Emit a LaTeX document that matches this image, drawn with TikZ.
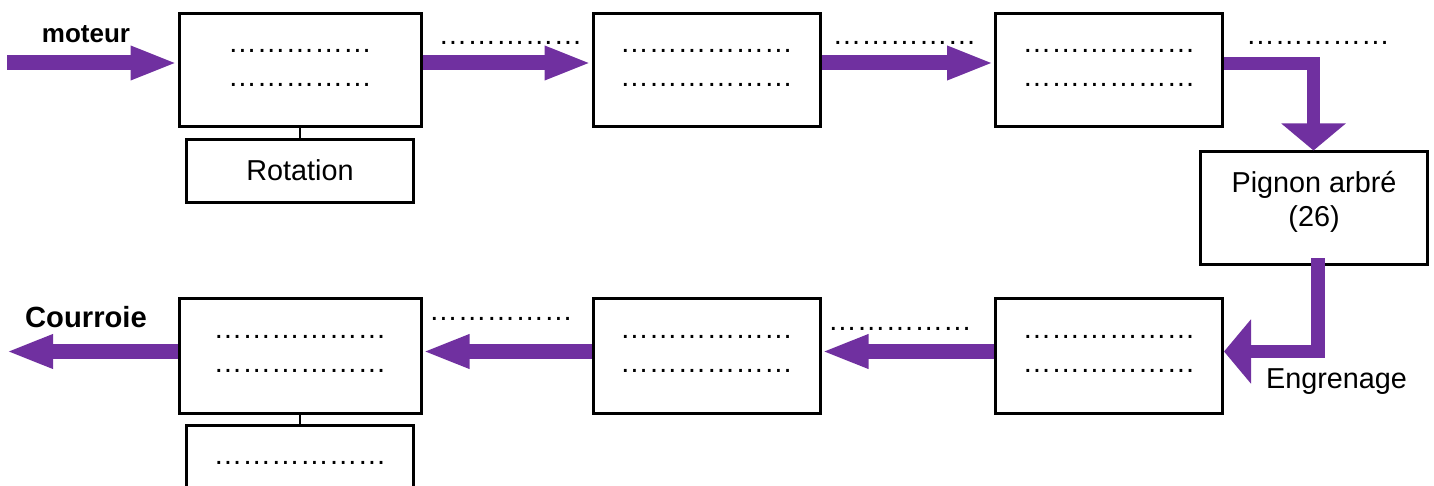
\documentclass[tikz,border=0pt]{standalone}
\usepackage{fontspec}
\setmainfont{Liberation Sans}
\usetikzlibrary{arrows.meta}
\definecolor{arrpurple}{RGB}{112,48,160}
\tikzset{
  box/.style={draw=black, line width=1.5pt, fill=white, minimum width=113.5pt, minimum height=56.5pt, inner sep=0pt},
  widebox/.style={box, minimum width=121pt},
  smallbox/.style={box, minimum height=31.5pt},
  txt/.style={font=\fontsize{14.4}{17}\selectfont, inner sep=0pt},
  dotstxt/.style={txt, anchor=base},
  boldtxt/.style={font=\bfseries, inner sep=0pt, anchor=base},
  arr/.style={draw=arrpurple, line width=7.5pt, line cap=butt, -{Triangle[length=23.5pt,width=15.5pt]}},
  barr/.style={draw=arrpurple, line width=6.75pt, line cap=butt, line join=miter, -{Triangle[length=13.5pt,width=31.5pt]}},
  link/.style={draw=black, line width=1pt}
}
\begin{document}
\begin{tikzpicture}[x=0.5pt, y=-0.5pt]
\useasboundingbox (0,0) rectangle (1434,486);
% top row
\node[widebox] (a1) at (300,70.5) {};
\node[box] (a2) at (706.5,70.5) {};
\node[box] (a3) at (1109,70.5) {};
\node[smallbox] (rot) at (299.5,171.5) {};
\node[box] (pig) at (1313.5,208.5) {};
% bottom row
\node[widebox, minimum height=57.5pt] (b1) at (300,355.5) {};
\node[box, minimum height=57.5pt] (b2) at (706.5,355.5) {};
\node[box, minimum height=57.5pt] (b3) at (1109,355.5) {};
\node[box, minimum height=40pt] (bot) at (299.5,465) {};
\coordinate (in) at (7,63);
\coordinate (out) at (6,351.5);
% links
\draw[link] (a1.south) -- (a1.south |- rot.north);
\draw[link] (b1.south) -- (b1.south |- bot.north);
% arrows
\draw[arr] (in) -- (in -| a1.west);
\draw[arr] ([yshift=3.75pt]a1.east) -- ([yshift=3.75pt]a2.west);
\draw[arr] ([yshift=3.75pt]a2.east) -- ([yshift=3.75pt]a3.west);
\draw[barr] ([yshift=3.5pt]a3.east) -| (pig.north);
\draw[barr] ([xshift=2.25pt,yshift=4pt]pig.south) |- ([yshift=2pt]b3.east);
\draw[arr] ([yshift=2pt]b3.west) -- ([yshift=2pt]b2.east);
\draw[arr] ([yshift=2pt]b2.west) -- ([yshift=2pt]b1.east);
\draw[arr] ([yshift=2pt]b1.west) -- (out);
% texts in boxes
\node[dotstxt] (a1t1) at (300,53) {……………};
\node[dotstxt] (a1t2) at (300,87) {……………};
\node[dotstxt] (a2t1) at (706.5,53) {………………};
\node[dotstxt] (a2t2) at (706.5,87) {………………};
\node[dotstxt] (a3t1) at (1109,53) {………………};
\node[dotstxt] (a3t2) at (1109,87) {………………};
\node[txt] (rott) at (300,170) {Rotation};
\node[txt, align=center] (pigt) at (1314,202) {Pignon arbré\\(26)};
\node[dotstxt] (b1t1) at (300,338) {………………};
\node[dotstxt] (b1t2) at (300,372) {………………};
\node[dotstxt] (b2t1) at (706.5,338) {………………};
\node[dotstxt] (b2t2) at (706.5,372) {………………};
\node[dotstxt] (b3t1) at (1109,338) {………………};
\node[dotstxt] (b3t2) at (1109,372) {………………};
\node[dotstxt] (bott) at (300,464) {………………};
% outside labels
\node[boldtxt, font=\bfseries\fontsize{13}{15}\selectfont] (mot) at (86,43) {moteur};
\node[boldtxt, font=\bfseries\fontsize{14.6}{17}\selectfont] (cour) at (86,328) {Courroie};
\node[dotstxt] (l1) at (510.5,45) {……………};
\node[dotstxt] (l2) at (904.5,45) {……………};
\node[dotstxt] (l3) at (1318,45) {……………};
\node[dotstxt] (l4) at (501,321) {……………};
\node[dotstxt] (l5) at (900,330) {……………};
\node[txt, anchor=base] (eng) at (1336.5,388) {Engrenage};
\end{tikzpicture}
\end{document}
